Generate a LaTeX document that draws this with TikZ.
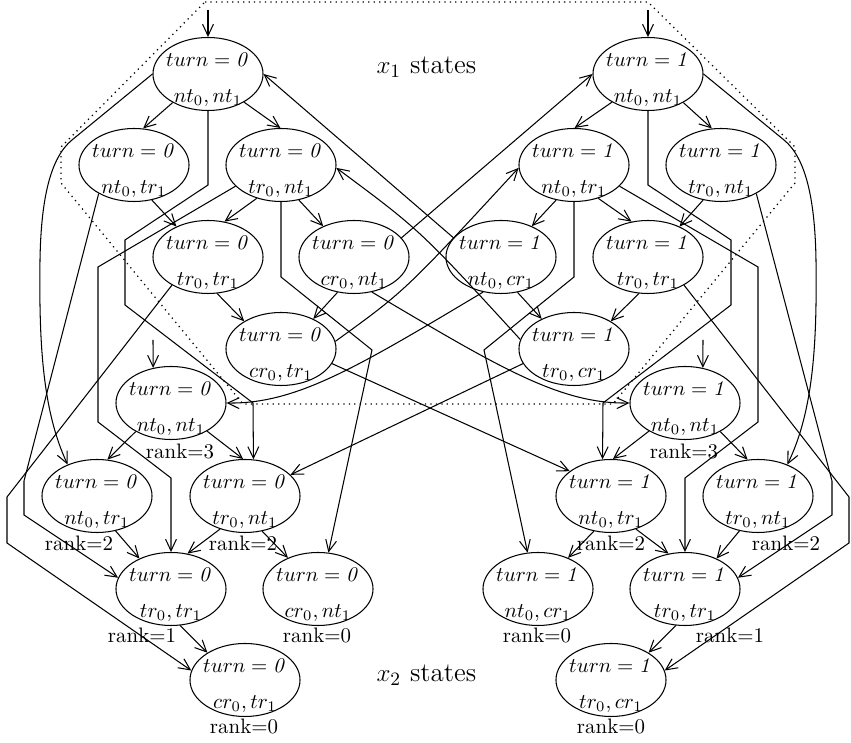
\documentclass[tikz,border=0pt]{standalone}
\usetikzlibrary{arrows.meta,shapes.geometric}

% a state: ellipse with the turn value on top and the local states below
\newcommand\mkstate[5]{%
  \node[state] (#1) at (#2,#3) {};
  \node[lbl] (#1t) at ([yshift=3.5pt]#1.center) {$turn = \mathit{#4}$};
  \node[lbl] (#1b) at ([yshift=-13.6pt]#1.center) {$#5$};
}

\begin{document}
\begin{tikzpicture}[x=0.478pt,y=-0.478pt,line width=0.5pt,
  state/.style={ellipse,draw,minimum width=52.6pt,minimum height=34.9pt,inner sep=0pt},
  lbl/.style={anchor=base,inner sep=0pt},
  caption/.style={anchor=base west,inner sep=0pt,font=\fontsize{12.9pt}{15pt}\selectfont},
  arr/.style={-{Straight Barb[length=5.5pt,width=5.2pt]}},
  border/.style={dotted,line width=0.6pt}]
\useasboundingbox (0,0) rectangle (851,743);

% ---------- x1 states ----------
\mkstate{A0}{208}{74}{0}{nt_0, nt_1}
\mkstate{B0}{134}{165}{0}{nt_0, tr_1}
\mkstate{C0}{281}{165}{0}{tr_0, nt_1}
\mkstate{D0}{208}{257}{0}{tr_0, tr_1}
\mkstate{E0}{354}{257}{0}{cr_0, nt_1}
\mkstate{F0}{281}{349}{0}{cr_0, tr_1}
\mkstate{A1}{648}{74}{1}{nt_0, nt_1}
\mkstate{B1}{574}{165}{1}{nt_0, tr_1}
\mkstate{C1}{721}{165}{1}{tr_0, nt_1}
\mkstate{D1}{648}{257}{1}{tr_0, tr_1}
\mkstate{E1}{501}{257}{1}{nt_0, cr_1}
\mkstate{F1}{574}{349}{1}{tr_0, cr_1}

% ---------- x2 states ----------
\mkstate{G0}{171}{403}{0}{nt_0, nt_1}
\mkstate{H0}{97}{496}{0}{nt_0, tr_1}
\mkstate{I0}{245}{496}{0}{tr_0, nt_1}
\mkstate{J0}{171}{589}{0}{tr_0, tr_1}
\mkstate{K0}{318}{589}{0}{cr_0, nt_1}
\mkstate{L0}{245}{680}{0}{cr_0, tr_1}
\mkstate{G1}{685}{403}{1}{nt_0, nt_1}
\mkstate{H1}{611}{496}{1}{nt_0, tr_1}
\mkstate{I1}{758}{496}{1}{tr_0, nt_1}
\mkstate{J1}{685}{589}{1}{tr_0, tr_1}
\mkstate{K1}{538}{589}{1}{nt_0, cr_1}
\mkstate{L1}{611}{680}{1}{tr_0, cr_1}

% ranks
\node[lbl] (G0r) at (180,459) {rank=3};
\node[lbl] (H0r) at (79,551) {rank=2};
\node[lbl] (I0r) at (243,551) {rank=2};
\node[lbl] (J0r) at (142,643) {rank=1};
\node[lbl] (K0r) at (317,643) {rank=0};
\node[lbl] (L0r) at (244,734) {rank=0};
\node[lbl] (G1r) at (684,459) {rank=3};
\node[lbl] (H1r) at (611,551) {rank=2};
\node[lbl] (I1r) at (786,551) {rank=2};
\node[lbl] (J1r) at (730,643) {rank=1};
\node[lbl] (K1r) at (537,643) {rank=0};
\node[lbl] (L1r) at (611,734) {rank=0};

% group captions
\node[caption] (x1cap) at (376,74) {$x_1$ states};
\node[caption] (x2cap) at (376,682) {$x_2$ states};

% region of the x1 states
\draw[border] (205,2) -- (648,2) -- (795,147) -- (795,183) -- (613,404)
  -- (243,404) -- (61,183) -- (61,147) -- cycle;

% initial states
\coordinate (iA0) at (208,10);
\coordinate (iA1) at (648,10);
\coordinate (iG0) at (153,340);
\coordinate (iG1) at (703,340);
\draw[arr] (iA0) -- (A0.north);
\draw[arr] (iA1) -- (A1.north);
\draw[arr] (iG0) -- (G0.117);
\draw[arr] (iG1) -- (G1.63);

% moves among x1 states
\draw[arr] (A0.219) -- (B0.76);
\draw[arr] (A0.322) -- (C0.91);
\draw[arr] (C0.234) -- (D0.65);
\draw[arr] (C0.297) -- (E0.135);
\draw[arr] (B0.297) -- (D0.136);
\draw[arr] (D0.284) -- (F0.143);
\draw[arr] (E0.245) -- (F0.43);
\draw[arr] (A1.218) -- (B1.89);
\draw[arr] (A1.321) -- (C1.104);
\draw[arr] (B1.306) -- (D1.115);
\draw[arr] (B1.243) -- (E1.45);
\draw[arr] (C1.243) -- (D1.44);
\draw[arr] (D1.256) -- (F1.37);
\draw[arr] (E1.295) -- (F1.137);
\draw[arr] (E0.22) -- (A1.180);
\draw[arr] (E1.158) -- (A0.east);
\draw[arr] (F0.8) .. controls (405,291) .. (B1.183);
\draw[arr] (F1.170) .. controls (420,230) .. (C0.357);

% moves among x2 states
\draw[arr] (G0.219) -- (H0.74);
\draw[arr] (G0.322) -- (I0.93);
\draw[arr] (H0.298) -- (J0.136);
\draw[arr] (I0.233) -- (J0.65);
\draw[arr] (I0.296) -- (K0.134);
\draw[arr] (J0.284) -- (L0.144);
\draw[arr] (G1.321) -- (I1.106);
\draw[arr] (G1.218) -- (H1.87);
\draw[arr] (I1.242) -- (J1.44);
\draw[arr] (H1.307) -- (J1.115);
\draw[arr] (H1.244) -- (K1.46);
\draw[arr] (J1.256) -- (L1.36);

% moves from x1 states to x2 states
\draw[arr] (A0.west) -- (72,140) .. controls (50,158) and (41,200) .. (40,260)
  .. controls (39,340) and (42,410) .. (H0.133);
\draw[arr] (A0.south) -- (208,185) -- (125,240) -- (125,305) -- (253,403) -- (I0.77);
\draw[arr] (B0.219) -- (24,481) -- (24,515) -- (J0.168);
\draw[arr] (C0.205) -- (98,267) -- (98,422) -- (171,478) -- (J0.north);
\draw[arr] (C0.south) -- (281,277) -- (372,350) -- (K0.74);
\draw[arr] (D0.218) -- (7,497) -- (7,543) -- (L0.170);
\draw[arr] (E0.297) .. controls (500,368) and (560,404) .. (G1.west);
\draw[arr] (F0.344) -- (H1.149);

\draw[arr] (A1.east) -- (784,140) .. controls (806,158) and (815,200) .. (816,260)
  .. controls (817,340) and (814,410) .. (I1.47);
\draw[arr] (A1.south) -- (648,185) -- (731,240) -- (731,305) -- (603,403) -- (H1.103);
\draw[arr] (C1.321) -- (832,481) -- (832,515) -- (J1.12);
\draw[arr] (B1.335) -- (758,267) -- (758,422) -- (685,478) -- (J1.north);
\draw[arr] (B1.south) -- (574,277) -- (484,350) -- (K1.106);
\draw[arr] (D1.322) -- (849,497) -- (849,543) -- (L1.10);
\draw[arr] (E1.243) .. controls (356,368) and (296,404) .. (G0.east);
\draw[arr] (F1.196) -- (I0.25);
\end{tikzpicture}
\end{document}
